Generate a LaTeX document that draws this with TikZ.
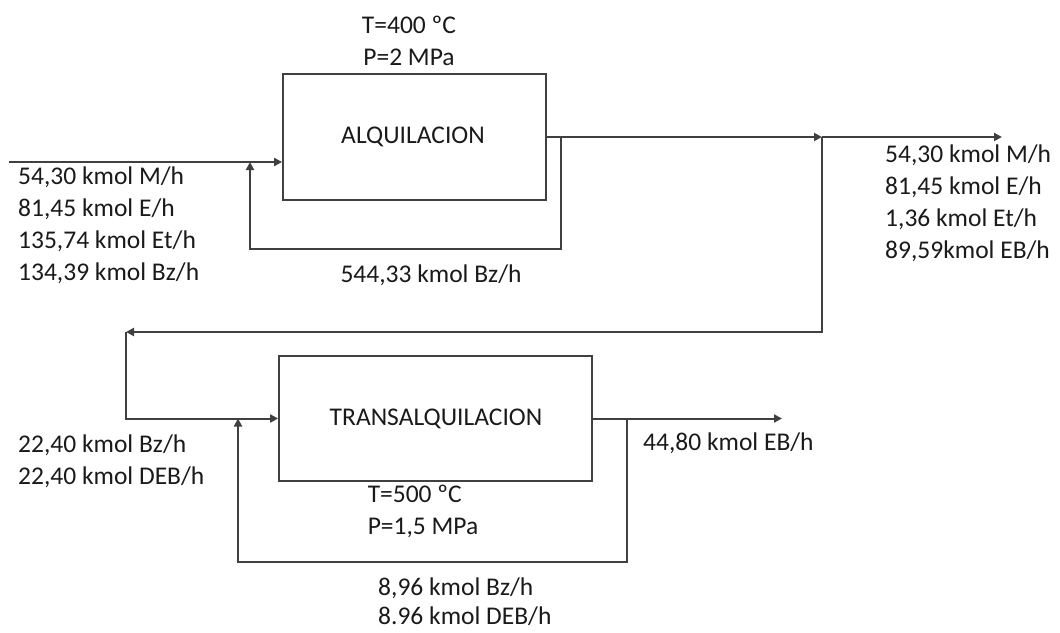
\documentclass[tikz,border=0pt]{standalone}
\usepackage{fontspec}
\setmainfont{Carlito}
\usepackage{tikz}
\usetikzlibrary{arrows.meta,positioning,calc}
\definecolor{lineGray}{HTML}{404040}
\definecolor{txtDark}{HTML}{1A1A1A}

\begin{document}
\begin{tikzpicture}[x=1pt,y=-1pt,>={Triangle[length=8pt,width=8pt]},
  font=\fontsize{25.5}{32}\selectfont,
  reactor/.style={draw=lineGray,line width=1.8pt,minimum width=313pt,minimum height=125pt,text=txtDark},
  flow/.style={draw=lineGray,line width=2pt},
  lbl/.style={text=txtDark,align=left,inner sep=0pt}]
\useasboundingbox (0,0) rectangle (1060,632);
% reactores
\node[reactor,minimum width=263pt,minimum height=126pt] (alq) at (414.5,137) {};
\node[text=txtDark] (alqtxt) at (413,137) {ALQUILACION};
\node[reactor] (trans) at (435.5,418.5) {};
\node[text=txtDark] (transtxt) at (436,419) {TRANSALQUILACION};
% puntos de las corrientes
\coordinate (feed) at (9,162);
\coordinate (mix1) at (250,162);
\coordinate (r1) at (561,249);
\coordinate (split) at (822,137);
\coordinate (prod) at (1002,137);
\coordinate (turn) at (126,332);
\coordinate (eb) at (782,418.5);
\coordinate (mix2) at (238,418.5);
\coordinate (r2) at (627,562);
% corrientes
\draw[flow,->] (feed) -- (feed -| alq.west);
\draw[flow,->] (r1 |- alq.east) -- (r1) -- (r1 -| mix1) -- (mix1);
\draw[flow,->] (alq.east) -- (split);
\draw[flow,->] (split) -- (prod);
\draw[flow,->] (split) -- (split |- turn) -- (turn);
\draw[flow,->] (turn) -- (turn |- trans.west) -- (trans.west);
\draw[flow,->] (trans.east) -- (eb);
\draw[flow,->] (r2 |- trans.east) -- (r2) -- (r2 -| mix2) -- (mix2);
% condiciones y caudales
\node[lbl,align=center] (cond1) at (409,41) {T=400 ºC\\P=2 MPa};
\node[lbl,align=left] (cond2) at (423,511) {T=500 ºC\\P=1,5 MPa};
\node[lbl,anchor=west] (alim) at (18,225) {54,30 kmol M/h\\81,45 kmol E/h\\135,74 kmol Et/h\\134,39 kmol Bz/h};
\node[lbl,anchor=west] (sal) at (885,203) {54,30 kmol M/h\\81,45 kmol E/h\\1,36 kmol Et/h\\89,59kmol EB/h};
\node[lbl] (rec1) at (431,275) {544,33 kmol Bz/h};
\node[lbl,anchor=west] (alim2) at (18,461) {22,40 kmol Bz/h\\22,40 kmol DEB/h};
\node[lbl,anchor=west] (sal2) at (643,443) {44,80 kmol EB/h};
\node[lbl,anchor=west,font=\fontsize{25.5}{29}\selectfont] (rec2) at (378,602) {8,96 kmol Bz/h\\8.96 kmol DEB/h};
\end{tikzpicture}
\end{document}
